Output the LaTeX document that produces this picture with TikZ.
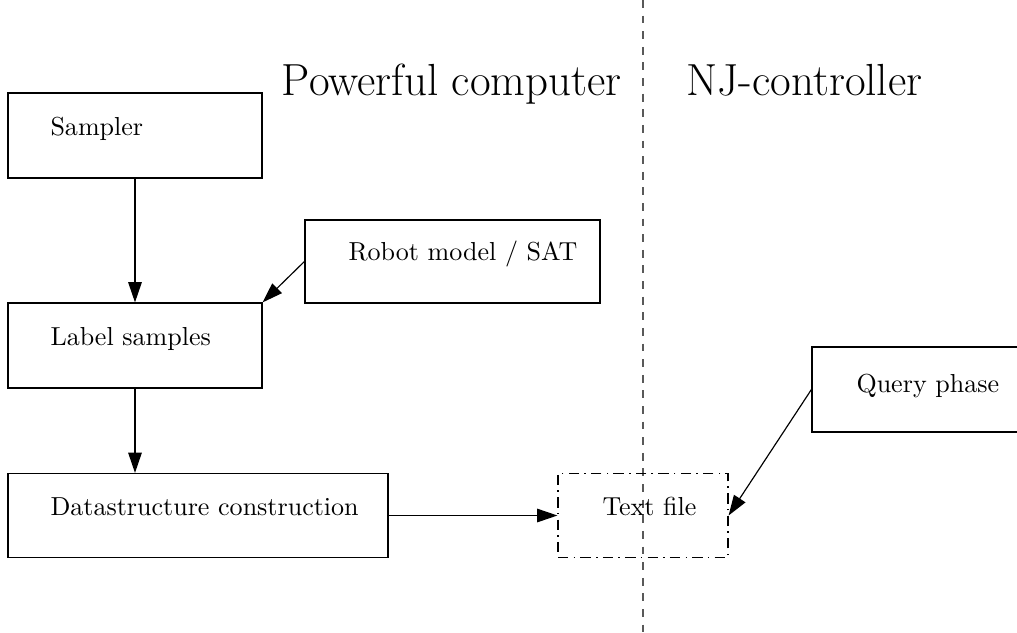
\documentclass[tikz,border=0pt]{standalone}
\usepackage{tikz}
\usetikzlibrary{arrows.meta}
\newlength\px
\setlength\px{0.0135cm}
\tikzset{
  box/.style={draw, line width=0.45pt, inner sep=0pt, minimum width=254\px, minimum height=85\px},
  dashbox/.style={box, dash pattern=on 4pt off 2pt on 0.6pt off 2pt},
  boxtext/.style={anchor=base west, inner sep=0pt, font=\normalsize},
  sidetitle/.style={inner sep=0pt, font=\LARGE},
  flow/.style={-{Triangle[length=7.8pt, width=5.2pt]}, line width=0.45pt},
}

\begin{document}
\begin{tikzpicture}[x=\px, y=-\px]
    \useasboundingbox (0,0) rectangle (1017,632);
    % separation between the two machines
    \coordinate (sepTop) at (643,0);
    \coordinate (sepBot) at (643,632);
    \draw[gray!70!black, line width=0.5pt, dash pattern=on 3pt off 3pt] (sepTop) -- (sepBot);
    \node[sidetitle, anchor=base east] (pc) at (622,95) {Powerful computer};
    \node[sidetitle, anchor=base west] (nj) at (686,95) {NJ-controller};
    % boxes
    \node[box] (sampler) at (135,135.5) {};
    \node[box, minimum width=295\px, minimum height=83\px] (robot) at (452.5,261.5) {};
    \node[box] (labels) at (135,345.5) {};
    \node[box, minimum width=380\px, minimum height=84\px] (datastr) at (198,515.5) {};
    \node[dashbox, minimum width=170\px, minimum height=84\px] (textfile) at (643,515.5) {};
    \node[box, minimum width=210\px] (query) at (917,389.5) {};
    \node[boxtext] (samplerT) at (50,135) {Sampler};
    \node[boxtext] (robotT) at (348,260) {Robot model / SAT};
    \node[boxtext] (labelsT) at (50,345) {Label samples};
    \node[boxtext] (datastrT) at (50,515) {Datastructure construction};
    \node[boxtext] (textfileT) at (602,515) {Text file};
    \node[boxtext] (queryT) at (856,392) {Query phase};
    % arrows
    \draw[flow] (sampler.south) -- (labels.north);
    \draw[flow] (robot.west) -- (labels.north east);
    \draw[flow] (labels.south) -- (datastr.north -| labels.south);
    \draw[flow] (datastr.east) -- (textfile.west);
    \draw[flow] (query.west) -- (textfile.east);
\end{tikzpicture}
\end{document}
